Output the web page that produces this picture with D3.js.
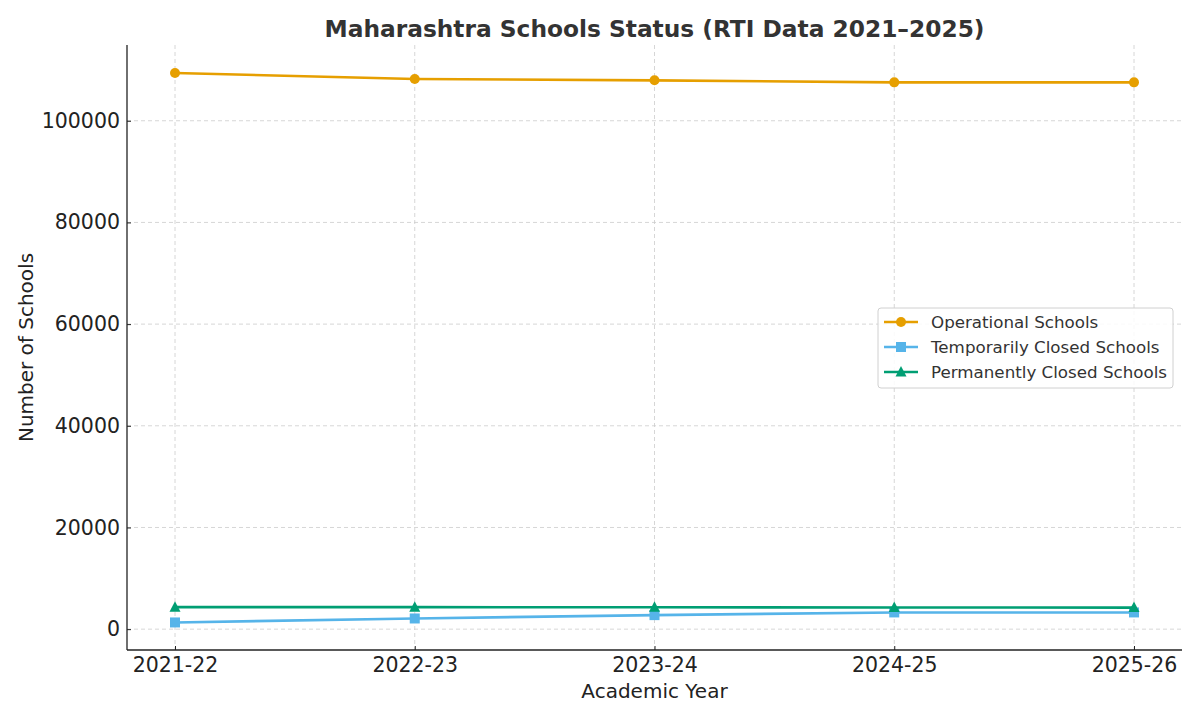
<!DOCTYPE html>
<html>
<head>
<meta charset="utf-8">
<script src="https://cdn.jsdelivr.net/npm/d3@7"></script>
<style>
  body { margin: 0; background: #fff; }
  svg { font-family: "DejaVu Sans", sans-serif; }
</style>
</head>
<body>
<script>
// data
var years = ["2021-22", "2022-23", "2023-24", "2024-25", "2025-26"];
var operational = [109400, 108220, 107950, 107550, 107550];
var tempClosed = [1320, 2100, 2760, 3290, 3290];
var permClosed = [4330, 4330, 4300, 4260, 4240];
var yTicks = [0, 20000, 40000, 60000, 80000, 100000];

(function() {
  var series = [
    { name: "Operational Schools", values: operational, color: "#E69F00", marker: "circle" },
    { name: "Temporarily Closed Schools", values: tempClosed, color: "#56B4E9", marker: "square" },
    { name: "Permanently Closed Schools", values: permClosed, color: "#009E73", marker: "triangle" }
  ];

  var width = 1200, height = 720;
  var mLeft = 127, mRight = 1182, mTop = 45, mBottom = 650;

  var svg = d3.select("body").append("svg")
    .attr("width", width)
    .attr("height", height);

  var x = d3.scalePoint().domain(years).range([175, 1134]);
  var y = d3.scaleLinear().domain([-4100, 114900]).range([mBottom, mTop]);

  // grid
  svg.append("g").selectAll("line")
    .data(years).enter().append("line")
    .attr("x1", d => x(d)).attr("x2", d => x(d))
    .attr("y1", mTop).attr("y2", mBottom)
    .attr("stroke", "#cccccc").attr("stroke-width", 0.8)
    .attr("stroke-dasharray", "4,3");

  svg.append("g").selectAll("line")
    .data(yTicks).enter().append("line")
    .attr("x1", mLeft).attr("x2", mRight)
    .attr("y1", d => y(d)).attr("y2", d => y(d))
    .attr("stroke", "#cccccc").attr("stroke-width", 0.8)
    .attr("stroke-dasharray", "4,3");

  // axes, ticks point inwards like the original
  var xAxis = svg.append("g")
    .attr("transform", "translate(0," + mBottom + ")")
    .call(d3.axisBottom(x).tickSize(-4).tickPadding(7));
  xAxis.select(".domain").attr("d", "M" + mLeft + ",0H" + mRight);

  var yAxis = svg.append("g")
    .attr("transform", "translate(" + mLeft + ",0)")
    .call(d3.axisLeft(y).tickValues(yTicks).tickSize(-4).tickPadding(7).tickFormat(d3.format("d")));
  yAxis.select(".domain").attr("d", "M0," + mTop + "V" + mBottom);

  svg.selectAll(".domain").attr("stroke", "#222").attr("stroke-width", 1.3);
  svg.selectAll(".tick line").attr("stroke", "#222").attr("stroke-width", 1);
  svg.selectAll(".tick text")
    .attr("font-size", 20.5)
    .attr("fill", "#222")
    .style("font-family", "DejaVu Sans, sans-serif");

  var line = d3.line()
    .x((d, i) => x(years[i]))
    .y(d => y(d));

  function drawMarker(g, type, color, cx, cy) {
    if (type === "circle") {
      g.append("circle").attr("cx", cx).attr("cy", cy).attr("r", 5).attr("fill", color);
    } else if (type === "square") {
      g.append("rect").attr("x", cx - 5).attr("y", cy - 5).attr("width", 10).attr("height", 10).attr("fill", color);
    } else {
      g.append("path")
        .attr("d", "M" + cx + "," + (cy - 6) + "L" + (cx + 5.5) + "," + (cy + 4.5) + "L" + (cx - 5.5) + "," + (cy + 4.5) + "Z")
        .attr("fill", color);
    }
  }

  series.forEach(function(s) {
    var g = svg.append("g");
    g.append("path")
      .attr("d", line(s.values))
      .attr("fill", "none")
      .attr("stroke", s.color)
      .attr("stroke-width", 2.6);
    s.values.forEach(function(v, i) {
      drawMarker(g, s.marker, s.color, x(years[i]), y(v));
    });
  });

  // title and labels
  svg.append("text")
    .attr("x", (mLeft + mRight) / 2).attr("y", 37)
    .attr("text-anchor", "middle")
    .attr("font-size", 23.3).attr("font-weight", "bold")
    .attr("fill", "#333")
    .text("Maharashtra Schools Status (RTI Data 2021\u20132025)");

  svg.append("text")
    .attr("x", (mLeft + mRight) / 2).attr("y", 698)
    .attr("text-anchor", "middle")
    .attr("font-size", 20).attr("fill", "#222")
    .text("Academic Year");

  svg.append("text")
    .attr("transform", "translate(33," + ((mTop + mBottom) / 2) + ") rotate(-90)")
    .attr("text-anchor", "middle")
    .attr("font-size", 20).attr("fill", "#222")
    .text("Number of Schools");

  // legend
  var legend = svg.append("g").attr("transform", "translate(878,308)");
  legend.append("rect")
    .attr("width", 295).attr("height", 80).attr("rx", 3)
    .attr("fill", "#fff").attr("fill-opacity", 0.85)
    .attr("stroke", "#d0d0d0");
  series.forEach(function(s, i) {
    var ly = 14 + i * 25;
    legend.append("line")
      .attr("x1", 6).attr("x2", 40).attr("y1", ly).attr("y2", ly)
      .attr("stroke", s.color).attr("stroke-width", 2.6);
    drawMarker(legend, s.marker, s.color, 23, ly);
    legend.append("text")
      .attr("x", 53).attr("y", ly + 6)
      .attr("font-size", 16.7).attr("fill", "#333")
      .text(s.name);
  });
})();
</script>
</body>
</html>
